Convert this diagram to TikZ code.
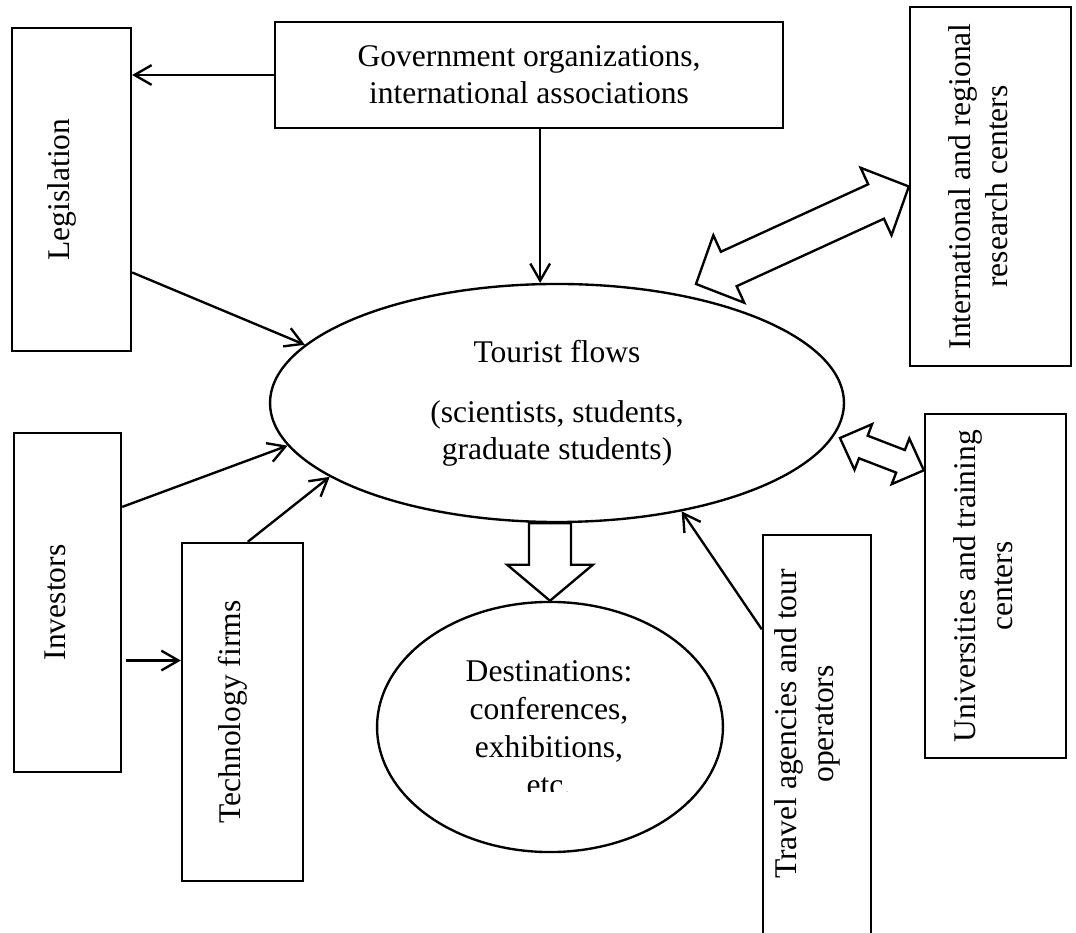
\documentclass[tikz,border=0pt]{standalone}
\usepackage{fontspec}
\setmainfont{Liberation Serif}
\usepackage{graphicx}
\usetikzlibrary{arrows.meta, calc, shapes.geometric}

\newcommand{\vlabel}[1]{\rotatebox{90}{\begin{tabular}{@{}c@{}}#1\end{tabular}}\kern7pt}
% strzalka blokowa z dwoma grotami: koniec, koniec, dl. grota, pol szer. grota, pol szer. trzonu
\newcommand{\dblblock}[5]{%
	\draw[block] (#1)
		-- ($(#1)!#3!(#2)!#4!90:(#2)$) -- ($(#1)!#3!(#2)!#5!90:(#2)$)
		-- ($(#2)!#3!(#1)!#5!-90:(#1)$) -- ($(#2)!#3!(#1)!#4!-90:(#1)$)
		-- (#2)
		-- ($(#2)!#3!(#1)!#4!90:(#1)$) -- ($(#2)!#3!(#1)!#5!90:(#1)$)
		-- ($(#1)!#3!(#2)!#5!-90:(#2)$) -- ($(#1)!#3!(#2)!#4!-90:(#2)$)
		-- cycle;}
% strzalka blokowa z jednym grotem: poczatek, grot, dl. grota, pol szer. grota, pol szer. trzonu
\newcommand{\singleblock}[5]{%
	\draw[block] ($(#1)!#5!90:(#2)$)
		-- ($(#2)!#3!(#1)!#5!-90:(#1)$) -- ($(#2)!#3!(#1)!#4!-90:(#1)$)
		-- (#2)
		-- ($(#2)!#3!(#1)!#4!90:(#1)$) -- ($(#2)!#3!(#1)!#5!90:(#1)$)
		-- ($(#1)!#5!-90:(#2)$) -- cycle;}

\begin{document}
\begin{tikzpicture}[
			x=0.3802pt, y=-0.3802pt,
			every node/.style={font=\fontsize{12}{14}\selectfont, inner sep=0pt},
			frame/.style={draw, rectangle, line width=0.9pt, align=center},
			sideframe/.style={draw, rectangle, line width=0.9pt},
			oval/.style={draw, ellipse, line width=0.9pt, align=center},
			block/.style={draw, line width=0.9pt, line join=miter},
			link/.style={draw, line width=0.9pt, ->},
			>={Straight Barb[length=6.5pt, width=7.5pt]}
			]
			\useasboundingbox (0,0) rectangle (1076,933);
			
			\node[frame, minimum width=193.1pt, minimum height=40.3pt] (gov) at (529,75) {Government organizations,\\international associations};
			\node[sideframe, minimum width=45.2pt, minimum height=122.8pt] (leg) at (71.5,189.5) {\vlabel{Legislation}};
			\node[sideframe, minimum width=61.2pt, minimum height=136.5pt] (intl) at (990.5,186.5) {\vlabel{International and regional\\research centers}};
			\node[oval, minimum width=218.2pt, minimum height=90.5pt] (tourist) at (557,403) {Tourist flows\\[9pt](scientists, students,\\graduate students)};
			\node[sideframe, minimum width=53.6pt, minimum height=130.8pt] (uni) at (995.5,586) {\vlabel{Universities and training\\centers}};
			\node[sideframe, minimum width=40.7pt, minimum height=128.9pt] (inv) at (67.5,602.5) {\vlabel{Investors}};
			\node[sideframe, minimum width=46pt, minimum height=128.5pt] (tech) at (242.5,712) {\vlabel{Technology firms}};
			\node[sideframe, minimum width=41.1pt, minimum height=161.6pt, text depth=17.9pt] (travel) at (817,747.5) {\vlabel{Travel agencies and tour\\operators}};
			\node[oval, minimum width=131.5pt, minimum height=95.1pt] (dest) at (550,727) {};
			\begin{scope}
				\clip (380,600) rectangle (720,791);
				\node[font=\fontsize{12}{14.5}\selectfont, align=center, anchor=north] (destlist) at (549,660) {Destinations:\\conferences,\\exhibitions,\\etc.};
			\end{scope}
			
			\coordinate (invlow) at ($(inv.north east)!0.67!(inv.south east)$);
			\draw[link] (gov.west) -- (gov.west -| leg.east);
			\draw[link] (gov.south -| tourist.98) -- (tourist.98);
			\draw[link] ($(leg.north east)!0.755!(leg.south east)$) -- (tourist.167);
			\draw[link] ($(inv.north east)!0.22!(inv.south east)$) -- (tourist.189);
			\draw[link] ([xshift=1.5pt]invlow) -- (invlow -| tech.west);
			\draw[link] ([xshift=2pt]tech.north) -- (tourist.198);
			\draw[link] ($(travel.north west)!0.2235!(travel.south west)$) -- (tourist.319);
			
			\coordinate (ra) at (696,284);
			\dblblock{ra}{intl.west}{13.7pt}{14.1pt}{7.2pt}
			\coordinate (ua) at (840,438);
			\coordinate (ub) at ($(uni.north west)!0.166!(uni.south west)$);
			\dblblock{ua}{ub}{9.5pt}{9.3pt}{4.6pt}
			\coordinate (dt) at (tourist.south -| dest.north);
			\singleblock{dt}{dest.north}{13.7pt}{16.3pt}{8pt}
		\end{tikzpicture}
\end{document}
